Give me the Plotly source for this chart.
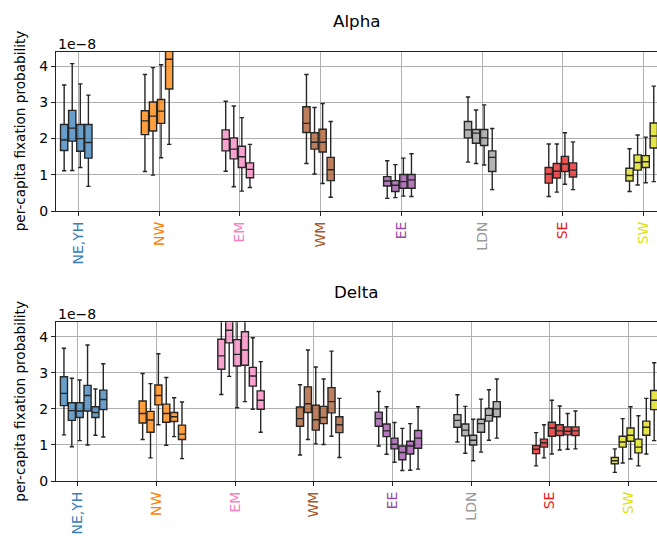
import plotly.graph_objects as go

# ---------------- data (values in units of 1e-8) ----------------
regions = ["NE,YH", "NW", "EM", "WM", "EE", "LDN", "SE", "SW"]
fill_colors = ["rgba(55,126,184,0.75)", "rgba(255,127,0,0.75)", "rgba(247,129,191,0.75)",
               "rgba(166,86,40,0.75)", "rgba(152,78,163,0.75)", "rgba(153,153,153,0.75)",
               "rgba(228,26,28,0.75)", "rgba(226,226,52,0.9)"]
label_colors = ["#377eb8", "#ff7f00", "#f781bf", "#a65628",
                "#984ea3", "#999999", "#e41a1c", "#e0e010"]
y_ticks = [0, 1, 2, 3, 4]
y_scale = 1e-8

# Alpha panel: 4 boxes per region
alpha_lo = [[1.11, 1.12, 1.20, 0.68], [1.09, 0.99, 1.47, 1.84], [1.10, 0.67, 0.55, 0.65],
            [1.31, 1.02, 0.76, 0.38], [0.35, 0.37, 0.41, 0.40], [1.35, 1.31, 1.27, 0.59],
            [0.40, 0.52, 0.74, 0.59], [0.54, 0.72, 0.78, 0.81]]
alpha_q1 = [[1.67, 1.93, 1.65, 1.46], [2.11, 2.21, 2.42, 3.37], [1.66, 1.44, 1.20, 0.92],
            [2.17, 1.71, 1.63, 0.84], [0.69, 0.54, 0.63, 0.63], [2.02, 1.87, 1.81, 1.09],
            [0.77, 0.91, 1.09, 0.94], [0.83, 1.13, 1.20, 1.74]]
alpha_med = [[1.96, 2.29, 2.00, 1.89], [2.49, 2.62, 2.76, 4.19], [1.98, 1.71, 1.50, 1.15],
             [2.42, 1.90, 1.90, 1.14], [0.83, 0.71, 0.81, 0.86], [2.24, 2.15, 2.02, 1.48],
             [1.02, 1.10, 1.30, 1.13], [0.98, 1.34, 1.36, 2.07]]
alpha_q3 = [[2.39, 2.78, 2.39, 2.39], [2.77, 3.01, 3.08, 4.70], [2.24, 2.02, 1.79, 1.33],
            [2.88, 2.16, 2.26, 1.48], [0.95, 0.84, 1.01, 1.01], [2.47, 2.25, 2.25, 1.66],
            [1.20, 1.31, 1.51, 1.33], [1.18, 1.55, 1.53, 2.43]]
alpha_hi = [[3.48, 4.07, 3.51, 3.20], [3.77, 3.96, 4.04, 6.20], [3.03, 2.90, 2.58, 1.84],
            [3.77, 2.86, 2.97, 2.47], [1.39, 1.28, 1.46, 1.58], [3.15, 2.79, 2.93, 2.28],
            [1.85, 1.85, 2.16, 1.91], [1.72, 2.10, 2.04, 3.45]]

# Delta panel: 6 boxes per region
delta_lo = [[1.28, 0.95, 1.12, 1.00, 1.27, 1.22], [1.15, 0.64, 1.56, 0.99, 1.23, 0.62],
            [2.40, 2.90, 2.03, 2.20, 1.99, 1.35], [0.72, 1.15, 1.03, 1.01, 1.24, 0.65],
            [0.97, 0.74, 0.52, 0.29, 0.30, 0.33], [1.08, 0.77, 0.56, 0.80, 1.13, 1.19],
            [0.42, 0.64, 0.75, 0.86, 0.88, 0.89], [0.24, 0.50, 0.61, 0.42, 0.75, 1.12]]
delta_q1 = [[2.09, 1.68, 1.76, 1.94, 1.76, 1.98], [1.61, 1.35, 2.11, 1.63, 1.65, 1.15],
            [3.10, 3.83, 3.19, 3.21, 2.63, 1.99], [1.52, 1.90, 1.41, 1.59, 1.89, 1.34],
            [1.52, 1.23, 0.89, 0.59, 0.75, 0.91], [1.49, 1.25, 1.00, 1.35, 1.66, 1.78],
            [0.76, 0.94, 1.24, 1.26, 1.28, 1.26], [0.48, 0.94, 1.10, 0.78, 1.27, 1.98]]
delta_med = [[2.43, 1.95, 1.94, 2.37, 1.90, 2.26], [1.87, 1.69, 2.37, 1.87, 1.78, 1.30],
             [3.47, 4.18, 3.51, 3.63, 2.91, 2.24], [1.73, 2.14, 1.70, 1.76, 2.20, 1.56],
             [1.73, 1.39, 1.02, 0.79, 0.97, 1.19], [1.68, 1.41, 1.13, 1.59, 1.82, 2.00],
             [0.88, 1.06, 1.47, 1.39, 1.38, 1.39], [0.56, 1.08, 1.27, 0.94, 1.49, 2.24]]
delta_q3 = [[2.89, 2.17, 2.17, 2.65, 2.06, 2.52], [2.22, 1.93, 2.66, 2.13, 1.90, 1.55],
            [3.93, 4.60, 3.92, 4.14, 3.15, 2.50], [2.05, 2.61, 2.10, 2.07, 2.59, 1.78],
            [1.91, 1.58, 1.19, 0.97, 1.10, 1.40], [1.84, 1.58, 1.27, 1.71, 2.01, 2.20],
            [0.98, 1.16, 1.63, 1.56, 1.50, 1.50], [0.65, 1.24, 1.47, 1.16, 1.66, 2.51]]
delta_hi = [[3.68, 2.85, 2.80, 3.77, 2.55, 3.25], [2.98, 2.70, 3.53, 2.87, 2.31, 2.19],
            [4.80, 5.40, 4.90, 4.70, 3.97, 3.31], [2.67, 3.63, 3.16, 2.83, 3.60, 2.29],
            [2.48, 2.06, 1.62, 1.46, 1.59, 2.06], [2.39, 2.07, 1.71, 2.27, 2.53, 2.83],
            [1.34, 1.56, 2.24, 2.08, 1.87, 1.94], [0.89, 1.73, 2.06, 1.81, 2.29, 3.28]]

# ---------------- figure ----------------
W, H = 657, 539
FONT = "DejaVu Sans"

fig = go.Figure()


def add_panel(lo, q1, med, q3, hi, xaxis, yaxis):
    for i, reg in enumerate(regions):
        n = len(med[i])
        xs = [i - 0.175 + 0.1 * j for j in range(n)]
        fig.add_trace(go.Box(
            x=xs,
            lowerfence=[v * y_scale for v in lo[i]],
            q1=[v * y_scale for v in q1[i]],
            median=[v * y_scale for v in med[i]],
            q3=[v * y_scale for v in q3[i]],
            upperfence=[v * y_scale for v in hi[i]],
            width=0.09,
            whiskerwidth=0.6,
            fillcolor=fill_colors[i],
            line=dict(color="#262626", width=1.4),
            boxpoints=False,
            showlegend=False,
            hoverinfo="skip",
            xaxis=xaxis, yaxis=yaxis,
        ))


add_panel(alpha_lo, alpha_q1, alpha_med, alpha_q3, alpha_hi, "x", "y")
add_panel(delta_lo, delta_q1, delta_med, delta_q3, delta_hi, "x2", "y2")


def py2paper(py):
    return 1 - py / H


ticktext = ['<span style="color:%s">%s</span>' % (c, r) for r, c in zip(regions, label_colors)]

xcommon = dict(
    tickmode="array", tickvals=list(range(len(regions))), ticktext=ticktext,
    tickangle=-90, ticks="outside", ticklen=4, tickwidth=1, tickcolor="#222",
    showgrid=True, gridcolor="#b0b0b0", gridwidth=1,
    showline=True, linecolor="#222", linewidth=1, mirror=True,
    zeroline=False, tickfont=dict(family=FONT, size=14),
    domain=[0, 1], automargin=False,
)
ycommon = dict(
    tickmode="array", tickvals=[v * y_scale for v in y_ticks],
    ticktext=[str(v) for v in y_ticks],
    range=[0, 4.4 * y_scale],
    ticks="outside", ticklen=4, tickwidth=1, tickcolor="#222",
    showgrid=True, gridcolor="#b0b0b0", gridwidth=1,
    showline=True, linecolor="#222", linewidth=1, mirror=False,
    zeroline=False, tickfont=dict(family=FONT, size=14, color="black"),
    automargin=False,
)

fig.update_layout(
    width=W, height=H,
    margin=dict(l=56, r=0, t=0, b=0, autoexpand=False),
    paper_bgcolor="white", plot_bgcolor="white",
    boxmode="overlay",
    xaxis=dict(xcommon, range=[-0.276, 7.165], anchor="y"),
    yaxis=dict(ycommon, domain=[py2paper(211), py2paper(51.7)], anchor="x"),
    xaxis2=dict(xcommon, range=[-0.276, 7.361], anchor="y2"),
    yaxis2=dict(ycommon, domain=[py2paper(481), py2paper(322.3)], anchor="x2"),
    font=dict(family=FONT, color="black"),
)

ann = []
for title, py_title, py_off, py_mid in [("Alpha", 21.5, 43.5, 131.3), ("Delta", 291.8, 314, 401.7)]:
    ann.append(dict(text=title, x=0.5, y=py2paper(py_title), xref="paper", yref="paper",
                    xanchor="center", yanchor="middle", showarrow=False,
                    font=dict(family=FONT, size=16.7, color="black")))
    ann.append(dict(text="1e\u22128", x=0, y=py2paper(py_off), xref="paper", yref="paper",
                    xanchor="left", yanchor="middle", showarrow=False,
                    font=dict(family=FONT, size=14, color="black")))
    ann.append(dict(text="per-capita fixation probability", x=(20 - 56) / 601, y=py2paper(py_mid),
                    xref="paper", yref="paper", xanchor="center", yanchor="middle",
                    textangle=-90, showarrow=False,
                    font=dict(family=FONT, size=13.6, color="black")))
fig.update_layout(annotations=ann)

fig.write_html("out.html")
